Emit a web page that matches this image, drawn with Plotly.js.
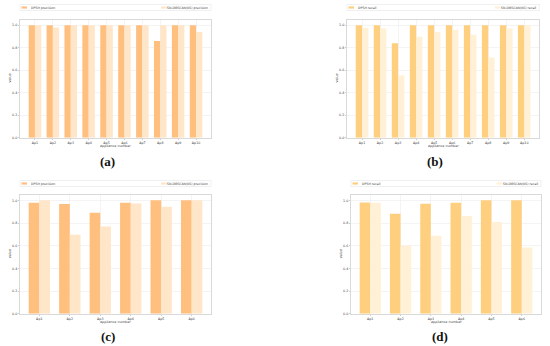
<!DOCTYPE html>
<html>
<head>
<meta charset="utf-8">
<script src="https://cdn.plot.ly/plotly-3.0.1.min.js"></script>
<style>html,body{margin:0;padding:0;background:#fff;}#chart{width:550px;height:346px;}</style>
</head>
<body>
<div id="chart"></div>
<script>
// ---- data ----
const apps10 = ['Ap1','Ap2','Ap3','Ap4','Ap5','Ap6','Ap7','Ap8','Ap9','Ap10'];
const apps6 = ['Ap1','Ap2','Ap3','Ap4','Ap5','Ap6'];

const nameDpshPrec = 'DPSH precision';
const nameSnPrec = 'SN-DBSCAN(KS) precision';
const nameDpshRec = 'DPSH recall';
const nameSnRec = 'SN-DBSCAN(KS) recall';

const dpshPrecA = [1.0, 1.0, 1.0, 1.0, 1.0, 1.0, 1.0, 0.86, 1.0, 1.0];
const snPrecA   = [1.0, 0.98, 1.0, 1.0, 1.0, 1.0, 1.0, 1.0, 1.0, 0.94];

const dpshRecB = [1.0, 1.0, 0.84, 1.0, 1.0, 1.0, 1.0, 1.0, 1.0, 1.0];
const snRecB   = [0.977, 0.97, 0.552, 0.896, 0.94, 0.958, 0.914, 0.713, 0.97, 1.0];

const dpshPrecC = [0.98, 0.968, 0.891, 0.98, 1.0, 1.0];
const snPrecC   = [1.0, 0.697, 0.77, 0.973, 0.944, 1.0];

const dpshRecD = [0.982, 0.882, 0.971, 0.98, 1.0, 1.0];
const snRecD   = [0.98, 0.602, 0.688, 0.862, 0.81, 0.584];

const yTickVals = [0, 0.2, 0.4, 0.6, 0.8, 1.0];
const panelLabels = ['(a)', '(b)', '(c)', '(d)'];
const xTitle = 'appliance number';
const yTitle = 'value';

// ---- styles ----
const W = 550, H = 346;
const colPrecDark = '#ffbf7f', colPrecLight = '#ffe6c9';
const colRecDark = '#ffcf80', colRecLight = '#fff0d6';
const smallFont = {family: 'DejaVu Sans', size: 3.3, color: '#444'};

const panels = [
  {ax: '', cats: apps10, a: dpshPrecA, b: snPrecA, na: nameDpshPrec, nb: nameSnPrec, ca: colPrecDark, cb: colPrecLight,
   left: 20, right: 211, top: 19.5, bottom: 137.7, legTop: 4.5, lab: [107.5, 161]},
  {ax: '2', cats: apps10, a: dpshRecB, b: snRecB, na: nameDpshRec, nb: nameSnRec, ca: colRecDark, cb: colRecLight,
   left: 347, right: 539.3, top: 19.5, bottom: 137.7, legTop: 4.5, lab: [435, 161]},
  {ax: '3', cats: apps6, a: dpshPrecC, b: snPrecC, na: nameDpshPrec, nb: nameSnPrec, ca: colPrecDark, cb: colPrecLight,
   left: 20, right: 211, top: 194.7, bottom: 313.7, legTop: 180.5, lab: [108, 336.5]},
  {ax: '4', cats: apps6, a: dpshRecD, b: snRecD, na: nameDpshRec, nb: nameSnRec, ca: colRecDark, cb: colRecLight,
   left: 351, right: 541, top: 194.7, bottom: 313.7, legTop: 180.5, lab: [440, 336]}
];

const px = x => x / W;
const py = y => 1 - y / H;

const traces = [];
const layout = {
  width: W, height: H,
  margin: {l: 0, r: 0, t: 0, b: 0},
  paper_bgcolor: '#fff', plot_bgcolor: '#fff',
  barmode: 'group', bargap: 0.3, bargroupgap: 0,
  showlegend: false,
  shapes: [], annotations: []
};

panels.forEach((p, i) => {
  const xa = 'x' + p.ax, ya = 'y' + p.ax;
  traces.push({type: 'bar', x: p.cats, y: p.a, name: p.na, xaxis: xa, yaxis: ya,
               marker: {color: p.ca, line: {width: 0}}, hoverinfo: 'x+y'});
  traces.push({type: 'bar', x: p.cats, y: p.b, name: p.nb, xaxis: xa, yaxis: ya,
               marker: {color: p.cb, line: {width: 0}}, hoverinfo: 'x+y'});
  const n = p.cats.length;
  const pad = 0.35 + 0.05 * (n - 1 + 0.7);
  layout['xaxis' + p.ax] = {
    type: 'category', domain: [px(p.left), px(p.right)], anchor: ya,
    range: [-pad, n - 1 + pad],
    showgrid: true, gridcolor: '#ececec', gridwidth: 0.6,
    showline: true, mirror: true, linecolor: '#cfcfcf', linewidth: 0.8,
    ticks: 'outside', ticklen: 1.2, tickwidth: 0.5, tickcolor: '#999',
    tickfont: smallFont, zeroline: false, fixedrange: true
  };
  layout['yaxis' + p.ax] = {
    domain: [py(p.bottom), py(p.top)], anchor: xa,
    range: [0, 1.05], tickvals: yTickVals, tickformat: '.1f',
    showgrid: true, gridcolor: '#ececec', gridwidth: 0.6,
    showline: true, mirror: true, linecolor: '#cfcfcf', linewidth: 0.8,
    ticks: 'outside', ticklen: 1.2, tickwidth: 0.5, tickcolor: '#999',
    tickfont: smallFont, zeroline: false, fixedrange: true
  };
  // axis titles
  layout.annotations.push({xref: xa + ' domain', yref: ya + ' domain', x: 0.5, y: 0,
    xanchor: 'center', yanchor: 'middle', yshift: -8, showarrow: false,
    text: xTitle, font: {family: 'DejaVu Sans', size: 3.4, color: '#444'}});
  layout.annotations.push({xref: xa + ' domain', yref: ya + ' domain', x: 0, y: 0.5,
    xanchor: 'center', yanchor: 'middle', xshift: -10, textangle: -90, showarrow: false,
    text: yTitle, font: {family: 'DejaVu Sans', size: 3.4, color: '#444'}});
  // legend box (matplotlib-style expanded legend)
  const lt = p.legTop, lb = p.legTop + 6;
  layout.shapes.push({type: 'rect', xref: 'paper', yref: 'paper',
    x0: px(p.left), x1: px(p.right), y0: py(lb), y1: py(lt),
    line: {color: '#e6e6e6', width: 0.6}, fillcolor: '#fff'});
  const my = lt + 3;
  layout.shapes.push({type: 'rect', xref: 'paper', yref: 'paper',
    x0: px(p.left + 1.5), x1: px(p.left + 7), y0: py(my + 1.1), y1: py(my - 1.1),
    line: {width: 0}, fillcolor: p.ca});
  layout.annotations.push({xref: 'paper', yref: 'paper', x: px(p.left + 9), y: py(my),
    xanchor: 'left', yanchor: 'middle', showarrow: false, text: p.na,
    font: {family: 'DejaVu Sans', size: 3.2, color: '#444'}});
  layout.annotations.push({xref: 'paper', yref: 'paper', x: px(p.right - 1.5), y: py(my),
    xanchor: 'right', yanchor: 'middle', showarrow: false, text: p.nb,
    font: {family: 'DejaVu Sans', size: 3.2, color: '#444'}, name: 'legtext' + i});
  // panel label
  layout.annotations.push({xref: 'paper', yref: 'paper', x: px(p.lab[0]), y: py(p.lab[1]),
    xanchor: 'center', yanchor: 'middle', showarrow: false, text: '<b>' + panelLabels[i] + '</b>',
    font: {family: 'Liberation Serif', size: 13, color: '#111'}});
});

Plotly.newPlot('chart', traces, layout, {staticPlot: true, displayModeBar: false}).then(gd => {
  // place the second legend patch just left of its right-aligned text
  const anns = gd.layout.annotations;
  const newShapes = gd.layout.shapes.slice();
  panels.forEach((p, i) => {
    const idx = anns.findIndex(a => a.name === 'legtext' + i);
    const el = gd.querySelectorAll('.annotation')[idx];
    let w = 40;
    if (el) {
      const t = el.querySelector('text');
      if (t) w = t.getBBox().width;
    }
    const textLeft = p.right - 1.5 - w;
    const my = p.legTop + 3;
    newShapes.push({type: 'rect', xref: 'paper', yref: 'paper',
      x0: px(textLeft - 7.5), x1: px(textLeft - 2), y0: py(my + 1.1), y1: py(my - 1.1),
      line: {width: 0}, fillcolor: p.cb});
  });
  Plotly.relayout(gd, {shapes: newShapes});
});
</script>
</body>
</html>
